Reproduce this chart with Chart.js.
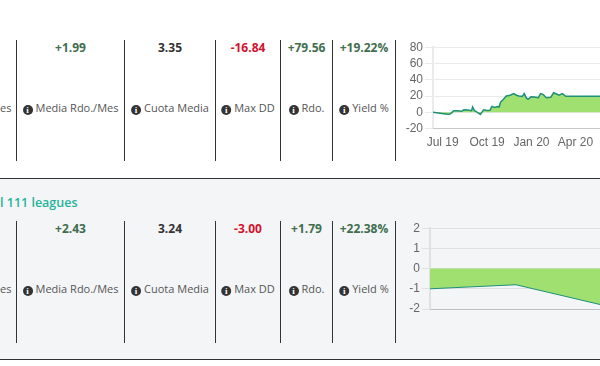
<!DOCTYPE html>
<html lang="es">
<head>
  <meta charset="UTF-8">
  <title>Rendimiento</title>
  <script src="https://cdn.jsdelivr.net/npm/chart.js"></script>
  <style>
    html, body { margin: 0; padding: 0; background: #fff; }
    body { position: relative; width: 600px; height: 366px; overflow: hidden; font-family: "Open Sans", sans-serif; color: #555; }
    #panel { position: absolute; left: 0; top: 178px; width: 600px; height: 180px; background: #f4f5f7; border-top: 1px solid #333; border-bottom: 1px solid #333; }
    .vline { position: absolute; width: 1px; background: #333; }
    .val, .lab { position: absolute; text-align: center; white-space: nowrap; transform: translateX(-50%); }
    .val { font-size: 12px; font-weight: 700; }
    .lab { font-size: 11px; }
    .up { color: #3f6d4e; }
    .down { color: #d2122e; }
    .flat { color: #333; }
    .ico { display: inline-block; width: 10px; height: 10px; border-radius: 50%; background: #333; color: #fff; font: bold 9px/10px "Liberation Serif", serif; text-align: center; margin-right: 3px; vertical-align: -1px; }
    #leagues { position: absolute; left: 0; top: 194px; font-size: 12.5px; font-weight: 600; color: #26b39b; white-space: nowrap; }
    #cut1, #cut2 { position: absolute; left: 0; font-size: 11px; }
    canvas { position: absolute; }
  </style>
</head>
<body>
  <div id="panel"></div>
  <div id="leagues">l 111 leagues</div>
  <div id="cut1" style="top:100px">es</div>
  <div id="cut2" style="top:281px">es</div>
  <div id="cells"></div>
  <canvas id="grafico1" width="204" height="115" style="left:396px;top:38px"></canvas>
  <canvas id="grafico2" width="204" height="100" style="left:396px;top:219px"></canvas>
  <script>
    // cabeceras de las columnas
    const columnas = ["Media Rdo./Mes", "Cuota Media", "Max DD", "Rdo.", "Yield %"];
    const valoresFila1 = ["+1.99", "3.35", "-16.84", "+79.56", "+19.22%"];
    const valoresFila2 = ["+2.43", "3.24", "-3.00", "+1.79", "+22.38%"];
    const clases = ["up", "flat", "down", "up", "up"];
    const separadores = [16, 124, 215, 280, 332, 395];

    // grafico de arriba: dias desde el 1 jul 2019
    const dias1 = [-20, -13, -6, 3, 11, 15, 18, 23, 30, 39, 44, 52, 60, 62, 66, 72, 78, 85, 92, 98, 102, 108, 113, 117, 120, 125, 132, 140, 147, 153, 158, 165, 169, 173, 177, 183, 190, 198, 203, 208, 215, 224, 230, 236, 241, 248, 255, 280, 326];
    const saldo1 = [0, -0.5, -1, -1.8, -2.5, -2, -1, 2, 1.8, 1.2, 3, 2.8, 2, 6.5, 2, 0, -2.5, 3, 2.2, 2.4, 7.3, 6, 7, 6.5, 12.6, 15.5, 20, 21, 23, 21, 20, 19.6, 23, 18, 16, 19, 18.8, 18, 23, 22, 18, 18.5, 24, 22.5, 21, 23, 19.6, 19.6, 19.6];
    const ticksDias = [0, 92, 184, 275];
    const etiquetasDias = ["Jul 19", "Oct 19", "Jan 20", "Apr 20"];
    const ticksY1 = { min: -20, max: 80, step: 20 };

    // grafico de abajo
    const puntos2 = [0, 1, 2];
    const saldo2 = [-1, -0.8, -1.8];
    const ticksY2 = { min: -2, max: 2, step: 1 };

    const cells = document.getElementById("cells");
    function addDiv(cls, left, top, html) {
      const d = document.createElement("div");
      d.className = cls;
      d.style.left = left + "px";
      d.style.top = top + "px";
      d.innerHTML = html;
      cells.appendChild(d);
      return d;
    }

    function fila(valores, topLinea, altura, topVal, topLab) {
      separadores.forEach(x => {
        addDiv("vline", x, topLinea, "").style.height = altura + "px";
      });
      columnas.forEach((col, i) => {
        const c = (separadores[i] + separadores[i + 1]) / 2 + 0.5;
        addDiv("val " + clases[i], c, topVal, valores[i]);
        addDiv("lab", c, topLab, '<span class="ico">i</span>' + col);
      });
    }
    fila(valoresFila1, 40, 121, 39, 100);
    fila(valoresFila2, 221, 122, 220, 281);

    const relleno = "#a0e070";
    const linea = "#1f8f7a";
    const ejeFont = { family: "'Liberation Sans', Arial", size: 12 };

    function opciones(rangoY, xMax, pad, anchoEje, conEtiquetas) {
      return {
        responsive: false,
        animation: false,
        layout: { padding: pad },
        plugins: { legend: { display: false }, tooltip: { enabled: false } },
        scales: {
          x: {
            type: "linear",
            min: conEtiquetas ? dias1[0] : puntos2[0],
            max: xMax,
            grid: { display: false, tickLength: 4 },
            border: { display: true, color: "rgba(0,0,0,0.15)" },
            afterBuildTicks: conEtiquetas ? (s => { s.ticks = ticksDias.map(v => ({ value: v })); }) : (s => { s.ticks = []; }),
            ticks: {
              display: conEtiquetas,
              autoSkip: false,
              maxRotation: 0,
              color: "#666",
              font: ejeFont,
              padding: 3,
              callback: (v) => etiquetasDias[ticksDias.indexOf(v)]
            }
          },
          y: {
            min: rangoY.min,
            max: rangoY.max,
            afterFit: s => { s.width = anchoEje; },
            grid: { color: "rgba(0,0,0,0.08)", tickLength: 8 },
            border: { display: true, color: "rgba(0,0,0,0.08)", width: 2 },
            ticks: { stepSize: rangoY.step, autoSkip: false, color: "#666", font: ejeFont, padding: 2 }
          }
        }
      };
    }

    new Chart(document.getElementById("grafico1"), {
      type: "line",
      data: {
        datasets: [{
          data: dias1.map((d, i) => ({ x: d, y: saldo1[i] })),
          borderColor: linea,
          backgroundColor: relleno,
          borderWidth: 1.5,
          pointRadius: 0,
          tension: 0,
          fill: "origin"
        }]
      },
      options: opciones(ticksY1, 326, { top: 5, bottom: 0 }, 37, true)
    });

    new Chart(document.getElementById("grafico2"), {
      type: "line",
      data: {
        datasets: [{
          data: puntos2.map((d, i) => ({ x: d, y: saldo2[i] })),
          borderColor: linea,
          backgroundColor: relleno,
          borderWidth: 1,
          pointRadius: 0,
          tension: 0,
          fill: "origin"
        }]
      },
      options: opciones(ticksY2, 1.977, { top: 6, bottom: 6 }, 34, false)
    });
  </script>
</body>
</html>
